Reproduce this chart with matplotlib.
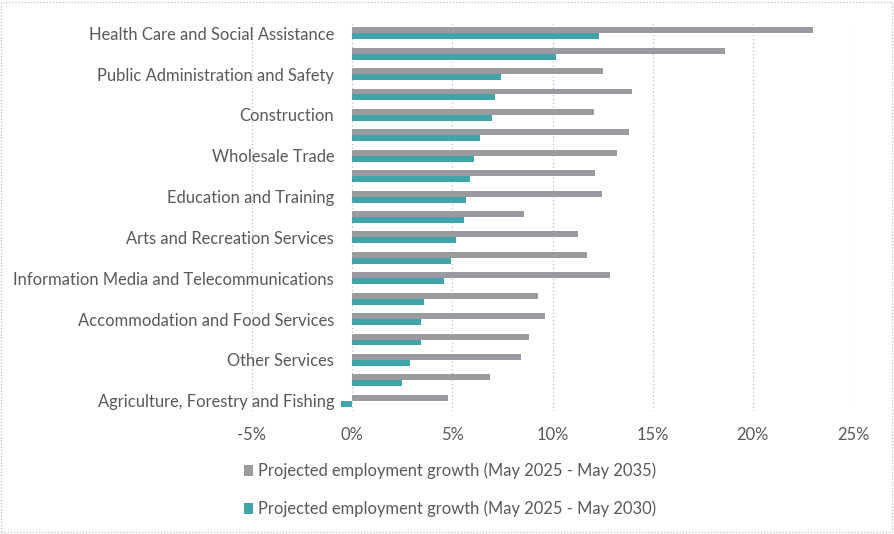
import matplotlib
matplotlib.use("Agg")
import matplotlib.pyplot as plt
from matplotlib.patches import Rectangle
from matplotlib.transforms import blended_transform_factory, offset_copy
import numpy as np

categories = [
    "Health Care and Social Assistance", "",
    "Public Administration and Safety", "",
    "Construction", "",
    "Wholesale Trade", "",
    "Education and Training", "",
    "Arts and Recreation Services", "",
    "Information Media and Telecommunications", "",
    "Accommodation and Food Services", "",
    "Other Services", "",
    "Agriculture, Forestry and Fishing",
]
growth_2035 = [23.0, 18.6, 12.5, 13.95, 12.05, 13.8, 13.2, 12.1, 12.45, 8.6,
               11.25, 11.7, 12.85, 9.3, 9.65, 8.85, 8.45, 6.9, 4.8]
growth_2030 = [12.3, 10.15, 7.45, 7.15, 7.0, 6.4, 6.1, 5.9, 5.7, 5.6,
               5.2, 4.95, 4.6, 3.6, 3.45, 3.45, 2.9, 2.5, -0.55]
series_labels = ["Projected employment growth (May 2025 - May 2035)",
                 "Projected employment growth (May 2025 - May 2030)"]
xticks = [-5, 0, 5, 10, 15, 20, 25]

plt.rcParams['font.family'] = ['Lato', 'DejaVu Sans']
txt = '#595959'
gray = '#9b9a9f'
teal = '#3fa5a9'
fs = 11.9

fig = plt.figure(figsize=(8.94, 5.34), dpi=100)
ax = fig.add_axes([252/894, 1-411/534, 601/894, 388/534])

y = np.arange(len(categories))
h = 0.29
ax.barh(y - h/2, growth_2035, height=h, color=gray, label=series_labels[0], zorder=3)
ax.barh(y + h/2, growth_2030, height=h, color=teal, label=series_labels[1], zorder=3)

ax.set_ylim(len(categories) - 0.5, -0.5)
ax.set_xlim(-5, 25)
ax.set_xticks(xticks)
ax.set_xticklabels([f"{t}%" for t in xticks], color=txt, fontsize=fs)
ax.set_yticks([])
ax.tick_params(length=0)
ax.tick_params(axis='x', pad=11.5)

# category labels placed next to the zero line (as the category axis crosses at 0)
trans = offset_copy(blended_transform_factory(ax.transData, ax.transData),
                    fig=fig, x=-18, y=-1.5, units='dots')
for yi, lab in zip(y, categories):
    if lab:
        ax.text(0, yi, lab, transform=trans, ha='right', va='center',
                color=txt, fontsize=fs, zorder=4)

for s in ax.spines.values():
    s.set_visible(False)
ax.grid(axis='x', linestyle=(0, (1, 2)), color='#bfbfbf', linewidth=0.9, zorder=0)
ax.set_axisbelow(True)
ax.patch.set_alpha(0)

leg = fig.legend(loc='center', bbox_to_anchor=(450/894, 1-490/534), ncol=1,
                 frameon=False, fontsize=fs, handlelength=0.6, handleheight=0.6,
                 handletextpad=0.3, labelspacing=1.3, labelcolor=txt)

fig.patches.append(Rectangle((0.001, 0.003), 0.997, 0.994, transform=fig.transFigure,
                             fill=False, edgecolor='#bfbfbf', linestyle=(0, (1, 1.5)),
                             linewidth=0.9))

fig.savefig("out.png", dpi=100)
